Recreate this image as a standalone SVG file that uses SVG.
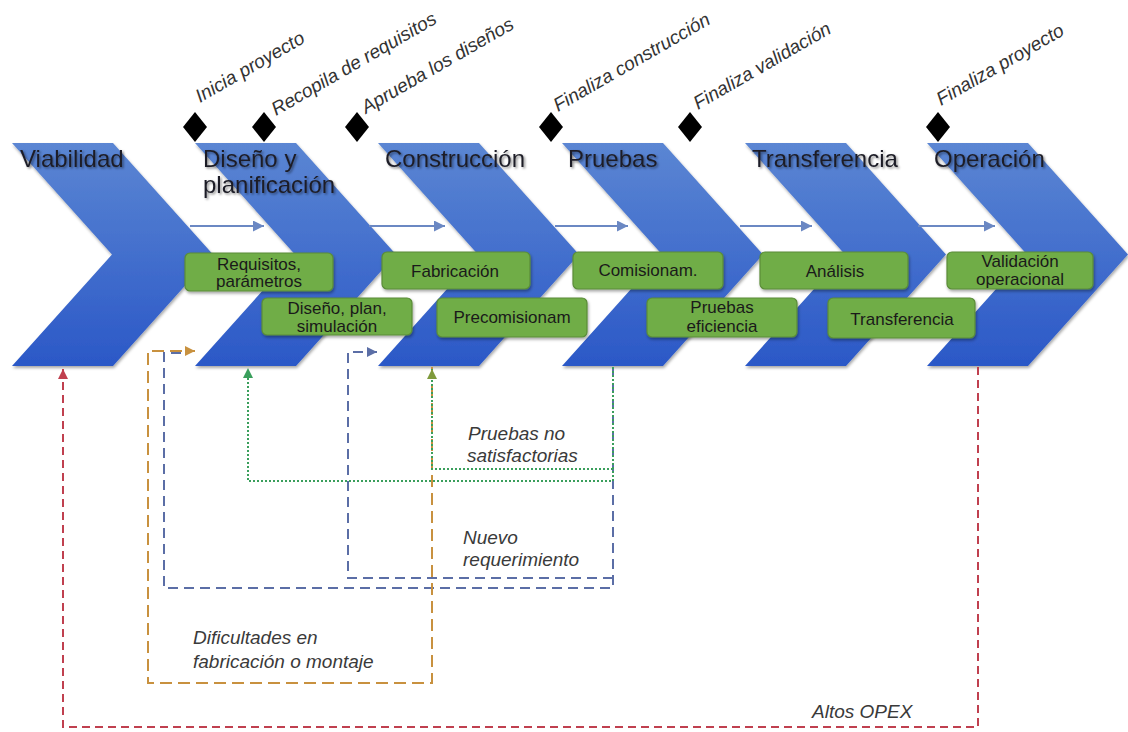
<svg xmlns="http://www.w3.org/2000/svg" width="1128" height="732" viewBox="0 0 1128 732">
  <defs>
    <linearGradient id="chev" x1="0" y1="0" x2="0" y2="1">
      <stop offset="0" stop-color="#5b86d3"/>
      <stop offset="1" stop-color="#2b58c7"/>
    </linearGradient>
    <filter id="shadow" x="-10%" y="-10%" width="125%" height="130%">
      <feDropShadow dx="1" dy="2" stdDeviation="1.5" flood-color="#000" flood-opacity="0.35"/>
    </filter>
    <filter id="txtshadow" x="-10%" y="-20%" width="125%" height="150%">
      <feDropShadow dx="1.5" dy="1.5" stdDeviation="1.2" flood-color="#000" flood-opacity="0.45"/>
    </filter>
    <marker id="ah-flow" viewBox="0 0 10 10" refX="10" refY="5" markerUnits="userSpaceOnUse" markerWidth="11" markerHeight="11" orient="auto">
      <path d="M0,0 L10,5 L0,10 Z" fill="#6b88c3"/>
    </marker>
    <marker id="ah-red" viewBox="0 0 10 10" refX="10" refY="5" markerUnits="userSpaceOnUse" markerWidth="10" markerHeight="10" orient="auto">
      <path d="M0,0 L10,5 L0,10 Z" fill="#c0404f"/>
    </marker>
    <marker id="ah-orange" viewBox="0 0 10 10" refX="10" refY="5" markerUnits="userSpaceOnUse" markerWidth="10" markerHeight="10" orient="auto">
      <path d="M0,0 L10,5 L0,10 Z" fill="#c8913f"/>
    </marker>
    <marker id="ah-blue" viewBox="0 0 10 10" refX="10" refY="5" markerUnits="userSpaceOnUse" markerWidth="10" markerHeight="10" orient="auto">
      <path d="M0,0 L10,5 L0,10 Z" fill="#5b6ea6"/>
    </marker>
    <marker id="ah-green" viewBox="0 0 10 10" refX="10" refY="5" markerUnits="userSpaceOnUse" markerWidth="10" markerHeight="10" orient="auto">
      <path d="M0,0 L10,5 L0,10 Z" fill="#3a9f5c"/>
    </marker>
    <marker id="ah-olive" viewBox="0 0 10 10" refX="10" refY="5" markerUnits="userSpaceOnUse" markerWidth="10" markerHeight="10" orient="auto">
      <path d="M0,0 L10,5 L0,10 Z" fill="#7f9a3c"/>
    </marker>
    <path id="chevron" d="M0,143 L101,143 L201,254.5 L101,366 L0,366 L100,254.5 Z"/>
  </defs>
  <style>
    .chev { fill: url(#chev); filter: url(#shadow); }
    .stage { font-family: "Liberation Sans", Arial, sans-serif; font-size: 24px; fill: #1e1e28; filter: url(#txtshadow); }
    .mile { font-family: "Liberation Sans", Arial, sans-serif; font-size: 19px; font-style: italic; fill: #333; }
    .diamond { fill: #000; }
    .box rect { fill: #70ad47; stroke: #5a8c38; stroke-width: 1.2; filter: url(#shadow); }
    .box text { font-family: "Liberation Sans", Arial, sans-serif; font-size: 17px; fill: #1a1a1a; text-anchor: middle; }
    .note { font-family: "Liberation Sans", Arial, sans-serif; font-size: 19px; font-style: italic; fill: #3a3a3a; }
    .flow { stroke: #6b88c3; stroke-width: 2; fill: none; marker-end: url(#ah-flow); }
    .red { stroke: #c0404f; stroke-width: 2; fill: none; stroke-dasharray: 8 5; }
    .orange { stroke: #c8913f; stroke-width: 2; fill: none; stroke-dasharray: 12 6; }
    .blue { stroke: #5b6ea6; stroke-width: 2; fill: none; stroke-dasharray: 10 6; }
    .green { stroke: #3a9f5c; stroke-width: 2; fill: none; stroke-dasharray: 2 2; }
  </style>

  <rect width="1128" height="732" fill="#fff"/>

  <!-- phase chevrons -->
  <g id="stage-viabilidad">
    <use href="#chevron" x="12" class="chev"/>
    <text class="stage" x="20" y="167">Viabilidad</text>
  </g>
  <g id="stage-diseno">
    <use href="#chevron" x="195" class="chev"/>
    <text class="stage" x="203" y="167">Diseño y</text>
    <text class="stage" x="203" y="193">planificación</text>
  </g>
  <g id="stage-construccion">
    <use href="#chevron" x="378" class="chev"/>
    <text class="stage" x="385" y="167">Construcción</text>
  </g>
  <g id="stage-pruebas">
    <use href="#chevron" x="562" class="chev"/>
    <text class="stage" x="568" y="167">Pruebas</text>
  </g>
  <g id="stage-transferencia">
    <use href="#chevron" x="745" class="chev"/>
    <text class="stage" x="752" y="167">Transferencia</text>
  </g>
  <g id="stage-operacion">
    <use href="#chevron" x="927" class="chev"/>
    <text class="stage" x="934" y="167">Operación</text>
  </g>

  <!-- milestones -->
  <g id="milestones">
    <g id="ms-inicia">
      <path class="diamond" d="M195,112 L207,127 L195,142 L183,127 Z"/>
      <text class="mile" transform="translate(200,103) rotate(-30)">Inicia proyecto</text>
    </g>
    <g id="ms-recopila">
      <path class="diamond" d="M264,112 L276,127 L264,142 L252,127 Z"/>
      <text class="mile" transform="translate(276,116) rotate(-30)">Recopila de requisitos</text>
    </g>
    <g id="ms-aprueba">
      <path class="diamond" d="M357,112 L369,127 L357,142 L345,127 Z"/>
      <text class="mile" transform="translate(366,114) rotate(-30)">Aprueba los diseños</text>
    </g>
    <g id="ms-fin-construccion">
      <path class="diamond" d="M551,112 L563,127 L551,142 L539,127 Z"/>
      <text class="mile" transform="translate(558,112) rotate(-30)">Finaliza construcción</text>
    </g>
    <g id="ms-fin-validacion">
      <path class="diamond" d="M690,112 L702,127 L690,142 L678,127 Z"/>
      <text class="mile" transform="translate(698,110) rotate(-30)">Finaliza validación</text>
    </g>
    <g id="ms-fin-proyecto">
      <path class="diamond" d="M938,112 L950,127 L938,142 L926,127 Z"/>
      <text class="mile" transform="translate(941,106) rotate(-30)">Finaliza proyecto</text>
    </g>
  </g>

  <!-- connectors -->
  <g id="connectors">
    <path class="flow" d="M190,226 H264"/>
    <path class="flow" d="M369,226 H445"/>
    <path class="flow" d="M555,226 H628"/>
    <path class="flow" d="M740,226 H812"/>
    <path class="flow" d="M918,226 H995"/>

    <!-- Altos OPEX -->
    <path class="red" d="M978,367 V727 H63 V369" marker-end="url(#ah-red)"/>
    <!-- Nuevo requerimiento -->
    <path class="blue" d="M613,367 V588 H164 V353 H186"/>
    <path class="blue" d="M613,578 H348 V352 H377" marker-end="url(#ah-blue)"/>
    <!-- Dificultades en fabricación o montaje -->
    <path class="orange" d="M432,367 V683 H148 V351 H195" marker-end="url(#ah-orange)"/>
    <!-- Pruebas no satisfactorias -->
    <path class="green" d="M613,367 V481 H248 V368" marker-end="url(#ah-green)"/>
    <path class="green" d="M613,469 H432 V369" marker-end="url(#ah-olive)"/>
  </g>

  <!-- activity boxes -->
  <g id="box-requisitos" class="box">
    <rect x="185" y="253" width="148" height="38" rx="5"/>
    <text x="259" y="270">Requisitos,</text>
    <text x="259" y="287">parámetros</text>
  </g>
  <g id="box-diseno" class="box">
    <rect x="262" y="298" width="150" height="37" rx="5"/>
    <text x="337" y="314">Diseño, plan,</text>
    <text x="337" y="332">simulación</text>
  </g>
  <g id="box-fabricacion" class="box">
    <rect x="382" y="252" width="148" height="37" rx="5"/>
    <text x="455" y="277">Fabricación</text>
  </g>
  <g id="box-precomisionam" class="box">
    <rect x="437" y="298" width="150" height="39" rx="5"/>
    <text x="512" y="323">Precomisionam</text>
  </g>
  <g id="box-comisionam" class="box">
    <rect x="573" y="252" width="150" height="37" rx="5"/>
    <text x="648" y="276">Comisionam.</text>
  </g>
  <g id="box-pruebas-eficiencia" class="box">
    <rect x="647" y="298" width="150" height="39" rx="5"/>
    <text x="722" y="313">Pruebas</text>
    <text x="722" y="332">eficiencia</text>
  </g>
  <g id="box-analisis" class="box">
    <rect x="760" y="252" width="148" height="37" rx="5"/>
    <text x="835" y="277">Análisis</text>
  </g>
  <g id="box-transferencia" class="box">
    <rect x="828" y="298" width="147" height="40" rx="5"/>
    <text x="902" y="325">Transferencia</text>
  </g>
  <g id="box-validacion" class="box">
    <rect x="947" y="252" width="146" height="37" rx="5"/>
    <text x="1020" y="267">Validación</text>
    <text x="1020" y="285">operacional</text>
  </g>

  <!-- loop labels -->
  <g id="labels">
    <text class="note" x="468" y="440">Pruebas no</text>
    <text class="note" x="467" y="462">satisfactorias</text>
    <text class="note" x="463" y="544">Nuevo</text>
    <text class="note" x="463" y="566">requerimiento</text>
    <text class="note" x="193" y="644">Dificultades en</text>
    <text class="note" x="193" y="668">fabricación o montaje</text>
    <text class="note" x="812" y="718">Altos OPEX</text>
  </g>
</svg>
